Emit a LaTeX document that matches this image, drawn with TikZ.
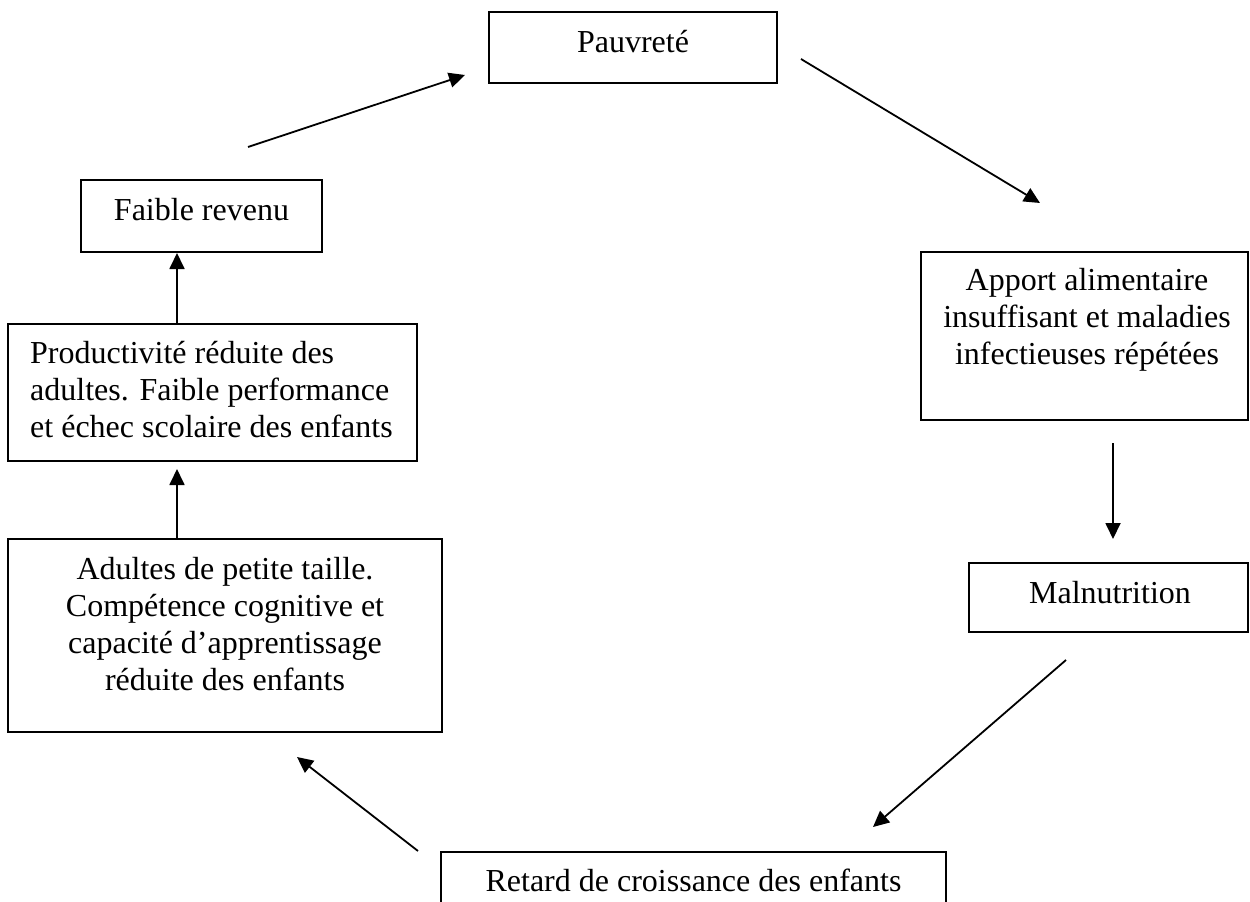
\documentclass[tikz,border=0pt]{standalone}
\usepackage{fontspec}
\setmainfont{Liberation Serif}
\usetikzlibrary{arrows.meta}
\begin{document}
\begin{tikzpicture}[x=1pt,y=-1pt,
  box/.style={draw, line width=2pt, inner sep=0pt},
  txt/.style={font=\fontsize{32}{36.8}\selectfont, inner sep=0pt, anchor=base},
  link/.style={line width=1.8pt, -{Triangle[length=16pt,width=15pt]}}]
\useasboundingbox (0,0) rectangle (1250,902);
\clip (0,0) rectangle (1250,902);

% frames of the cycle
\node[box, minimum width=288pt, minimum height=71pt]  (pauv)   at (633,47.5)   {};
\node[box, minimum width=241pt, minimum height=72pt]  (faible) at (201.5,216)  {};
\node[box, minimum width=409pt, minimum height=137pt] (prod)   at (212.5,392.5){};
\node[box, minimum width=434pt, minimum height=193pt] (adult)  at (225,635.5)  {};
\node[box, minimum width=505pt, minimum height=120pt] (retard) at (693.5,912)  {};
\node[box, minimum width=279pt, minimum height=69pt]  (maln)   at (1108.5,597.5){};
\node[box, minimum width=327pt, minimum height=168pt] (apport) at (1084.5,336)  {};

% texts (multi-line blocks are placed by the baseline of their last line)
\node[txt] (pauvT) at (633,52) {Pauvreté};
\node[txt] (faibleT) at (201.5,220) {Faible revenu};
\node[txt, anchor=base west, align=left] (prodT) at (30,437)
  {Productivité réduite des\\adultes. Faible performance\\et échec scolaire des enfants};
\node[txt, align=center] (adultT) at (225,690)
  {Adultes de petite taille.\\Compétence cognitive et\\capacité d’apprentissage\\réduite des enfants};
\node[txt] (retardT) at (693.5,891) {Retard de croissance des enfants};
\node[txt] (malnT) at (1110,603) {Malnutrition};
\node[txt, align=center] (apportT) at (1087,364)
  {Apport alimentaire\\insuffisant et maladies\\infectieuses répétées};

% free ends of the arrows
\coordinate (a1s) at (248,147);  \coordinate (a1e) at (465,75);
\coordinate (a2s) at (801,59);   \coordinate (a2e) at (1040,203);
\coordinate (a3s) at (1113,443); \coordinate (a3e) at (1113,539);
\coordinate (a4s) at (1066,660); \coordinate (a4e) at (873,827);
\coordinate (a5s) at (418,851);  \coordinate (a5e) at (297,757);
\coordinate (a6s) at (177,539);  \coordinate (a6e) at (177,469);
\coordinate (a7s) at (177,324);  \coordinate (a7e) at (177,253);

\draw[link] (a1s) -- (a1e);
\draw[link] (a2s) -- (a2e);
\draw[link] (a3s) -- (a3e);
\draw[link] (a4s) -- (a4e);
\draw[link] (a5s) -- (a5e);
\draw[link] (a6s) -- (a6e);
\draw[link] (a7s) -- (a7e);
\end{tikzpicture}
\end{document}
